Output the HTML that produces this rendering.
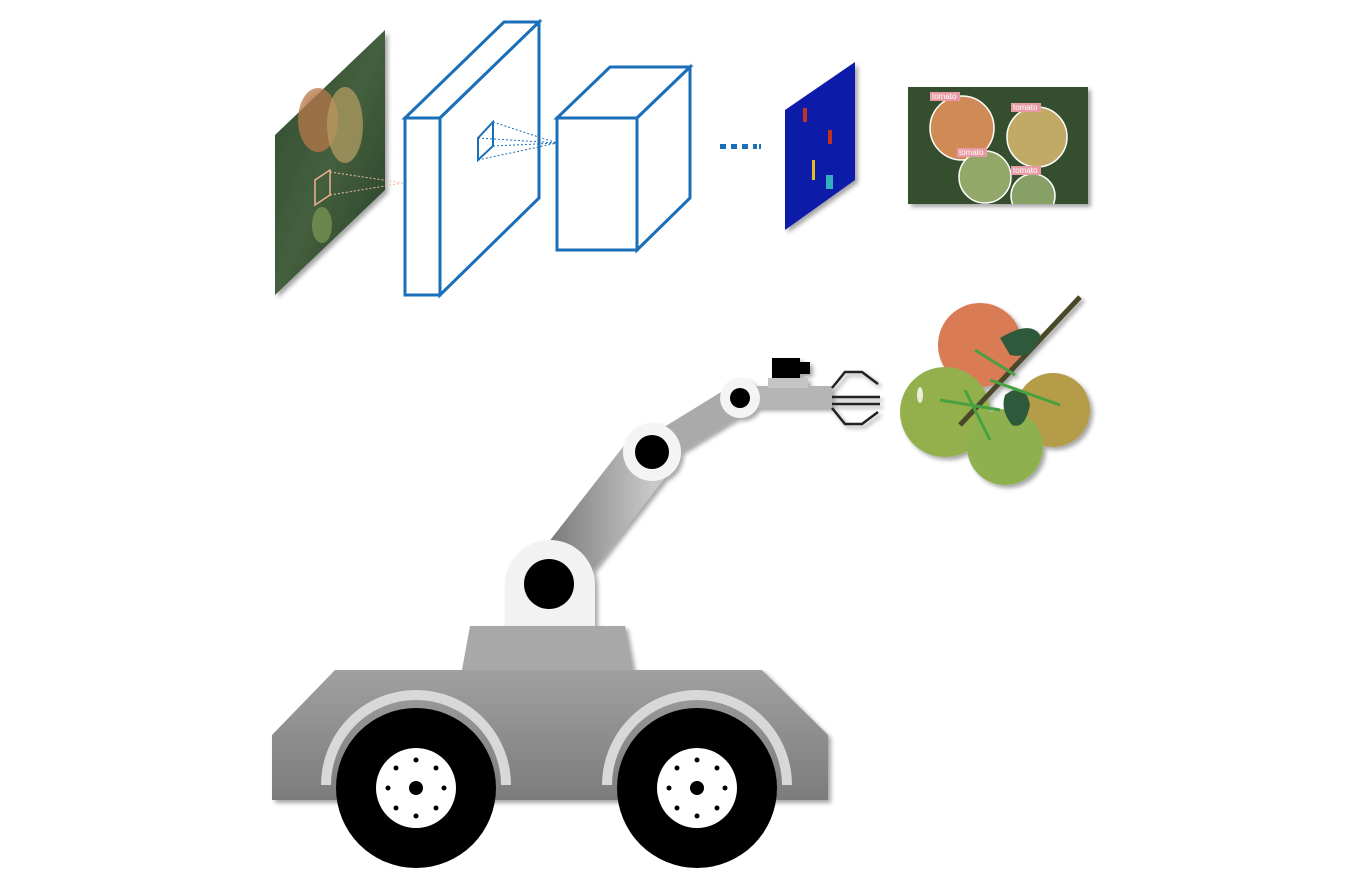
<!DOCTYPE html>
<html><head><meta charset="utf-8"><style>html,body{margin:0;padding:0;background:#fff}svg{display:block}</style></head>
<body>
<svg width="1372" height="890" viewBox="0 0 1372 890" xmlns="http://www.w3.org/2000/svg">
<defs>
<linearGradient id="leafbg" x1="0" y1="0" x2="1" y2="1"><stop offset="0" stop-color="#2f4a30"/><stop offset="0.5" stop-color="#445f3d"/><stop offset="1" stop-color="#263f28"/></linearGradient>
<linearGradient id="body" x1="0" y1="0" x2="0" y2="1"><stop offset="0" stop-color="#a0a0a0"/><stop offset="1" stop-color="#7c7c7c"/></linearGradient>
<linearGradient id="arm" x1="0" y1="0" x2="1" y2="0"><stop offset="0" stop-color="#7a7a7a"/><stop offset="1" stop-color="#c8c8c8"/></linearGradient>
<clipPath id="detclip"><rect x="908" y="87" width="180" height="117"/></clipPath>
<filter id="sh" x="-10%" y="-10%" width="130%" height="130%"><feDropShadow dx="3" dy="3" stdDeviation="2" flood-opacity="0.35"/></filter>
</defs>

<g filter="url(#sh)">
<polygon points="275,135 385,30 385,190 275,295" fill="url(#leafbg)"/>
<ellipse cx="318" cy="120" rx="20" ry="32" fill="#b8784a" opacity="0.75"/>
<ellipse cx="345" cy="125" rx="18" ry="38" fill="#b8a065" opacity="0.7"/>
<ellipse cx="322" cy="225" rx="10" ry="18" fill="#7f9a55" opacity="0.7"/>
<polygon points="315,180 330,170 330,195 315,205" fill="none" stroke="#f0b090" stroke-width="1.5"/>
</g>
<g fill="none" stroke="#1a6fb8" stroke-width="3">
<rect x="405" y="118" width="35" height="177" fill="#fff"/>
<polygon points="405,118 440,118 539,22 504,22" fill="#fff"/>
<polygon points="440,118 539,22 539,198 440,295" fill="#fff"/>
<polygon points="478,138 493,122 493,146 478,160" stroke-width="2"/>
<g stroke-width="1" stroke-dasharray="2,2"><line x1="478" y1="138" x2="557" y2="143"/><line x1="493" y1="122" x2="557" y2="143"/><line x1="493" y1="146" x2="557" y2="143"/><line x1="478" y1="160" x2="557" y2="143"/></g>
</g>
<g stroke="#f3c0a0" stroke-width="1" stroke-dasharray="2,2"><line x1="330" y1="172" x2="403" y2="183"/><line x1="330" y1="195" x2="403" y2="183"/></g>
<g fill="#fff" stroke="#1a6fb8" stroke-width="3">
<rect x="557" y="118" width="80" height="132"/>
<polygon points="557,118 637,118 690,67 610,67"/>
<polygon points="637,118 690,67 690,198 637,250"/>
</g>
<g fill="#1a6fb8"><rect x="720" y="144" width="6" height="5"/><rect x="731" y="144" width="6" height="5"/><rect x="742" y="144" width="6" height="5"/><rect x="753" y="144" width="4" height="5"/><rect x="759" y="144" width="2" height="5"/></g>
<g filter="url(#sh)">
<polygon points="785,110 855,62 855,180 785,230" fill="#0c1aa8"/>
<rect x="803" y="108" width="4" height="14" fill="#c03020"/>
<rect x="828" y="130" width="4" height="14" fill="#c03020"/>
<rect x="812" y="160" width="3" height="20" fill="#e0c020"/>
<rect x="826" y="175" width="7" height="14" fill="#30b0c0"/>
</g>
<g>
<rect x="908" y="87" width="180" height="117" fill="#34502f" filter="url(#sh)"/>
<g clip-path="url(#detclip)">
<circle cx="962" cy="128" r="32" fill="#d08a55" stroke="#fff" stroke-width="1.5"/>
<circle cx="1037" cy="137" r="30" fill="#c0aa66" stroke="#fff" stroke-width="1.5"/>
<circle cx="985" cy="177" r="26" fill="#93a868" stroke="#fff" stroke-width="1.5"/>
<circle cx="1033" cy="196" r="22" fill="#87a066" stroke="#fff" stroke-width="1.5"/>
</g>
<g font-family="Liberation Sans, sans-serif" font-size="8" fill="#fff">
<rect x="930" y="92" width="30" height="9" fill="#e89aa6"/><text x="932" y="99">tomato</text>
<rect x="1011" y="103" width="30" height="9" fill="#e89aa6"/><text x="1013" y="110">tomato</text>
<rect x="957" y="148" width="30" height="9" fill="#e89aa6"/><text x="959" y="155">tomato</text>
<rect x="1011" y="166" width="30" height="9" fill="#e89aa6"/><text x="1013" y="173">tomato</text>
</g>
</g>

<g filter="url(#sh)">
<circle cx="980" cy="345" r="42" fill="#d97b55"/>
<circle cx="1053" cy="410" r="37" fill="#b59c48"/>
<circle cx="945" cy="412" r="45" fill="#94b04d"/>
<circle cx="1005" cy="447" r="38" fill="#8fb04f"/>
<line x1="1080" y1="297" x2="960" y2="425" stroke="#4a4a2a" stroke-width="5"/>
<path d="M1000,338 Q1030,320 1040,335 Q1035,360 1010,355 Z" fill="#2f5a3a"/>
<path d="M1005,395 Q1025,380 1030,405 Q1025,430 1012,425 Q1000,410 1005,395 Z" fill="#2f5a3a"/>
<g stroke="#4aa040" stroke-width="3" fill="none"><path d="M940,400 L1000,410"/><path d="M965,390 L990,440"/><path d="M990,380 L1060,405"/><path d="M975,350 L1015,375"/></g>
<ellipse cx="920" cy="395" rx="3" ry="8" fill="#fff" opacity="0.8"/>
</g>

<g filter="url(#sh)">
<line x1="549" y1="584" x2="652" y2="452" stroke="url(#arm)" stroke-width="52"/>
<line x1="652" y1="452" x2="740" y2="398" stroke="#aaaaaa" stroke-width="30"/>
<rect x="752" y="386" width="80" height="22" fill="#b5b5b5"/>
<rect x="768" y="378" width="40" height="10" fill="#c5c5c5"/>
<rect x="772" y="358" width="28" height="20" fill="#000"/>
<rect x="800" y="362" width="10" height="12" fill="#000"/>
<path d="M832,388 L845,372 L862,372 L878,384 M832,397 L880,397 M832,404 L880,404 M832,408 L845,424 L862,424 L878,412" fill="none" stroke="#222" stroke-width="2.5"/>
<path d="M505,626 L505,585 A45,45 0 0 1 595,585 L595,626 Z" fill="#f2f2f2"/>
<circle cx="549" cy="584" r="25" fill="#000"/>
<circle cx="652" cy="452" r="29" fill="#f4f4f4"/>
<circle cx="652" cy="452" r="17" fill="#000"/>
<circle cx="740" cy="398" r="20" fill="#f4f4f4"/>
<circle cx="740" cy="398" r="10" fill="#000"/>
</g>
<g filter="url(#sh)">
<polygon points="470,626 625,626 633,670 462,670" fill="#a8a8a8"/>
<polygon points="272,735 335,670 762,670 828,735 828,800 272,800" fill="url(#body)"/>
<path d="M326,785 A90,90 0 0 1 506,785" fill="none" stroke="#d8d8d8" stroke-width="10"/>
<path d="M607,785 A90,90 0 0 1 787,785" fill="none" stroke="#d8d8d8" stroke-width="10"/>
</g>
<g>
<circle cx="416" cy="788" r="80" fill="#000"/><circle cx="416" cy="788" r="40" fill="#fff"/><circle cx="416" cy="788" r="7" fill="#000"/>
<g fill="#000"><circle cx="416" cy="760" r="2.5"/><circle cx="416" cy="816" r="2.5"/><circle cx="388" cy="788" r="2.5"/><circle cx="444" cy="788" r="2.5"/><circle cx="396" cy="768" r="2.5"/><circle cx="436" cy="768" r="2.5"/><circle cx="396" cy="808" r="2.5"/><circle cx="436" cy="808" r="2.5"/></g>
</g>
<g>
<circle cx="697" cy="788" r="80" fill="#000"/><circle cx="697" cy="788" r="40" fill="#fff"/><circle cx="697" cy="788" r="7" fill="#000"/>
<g fill="#000"><circle cx="697" cy="760" r="2.5"/><circle cx="697" cy="816" r="2.5"/><circle cx="669" cy="788" r="2.5"/><circle cx="725" cy="788" r="2.5"/><circle cx="677" cy="768" r="2.5"/><circle cx="717" cy="768" r="2.5"/><circle cx="677" cy="808" r="2.5"/><circle cx="717" cy="808" r="2.5"/></g>
</g>
</svg>
</body></html>
